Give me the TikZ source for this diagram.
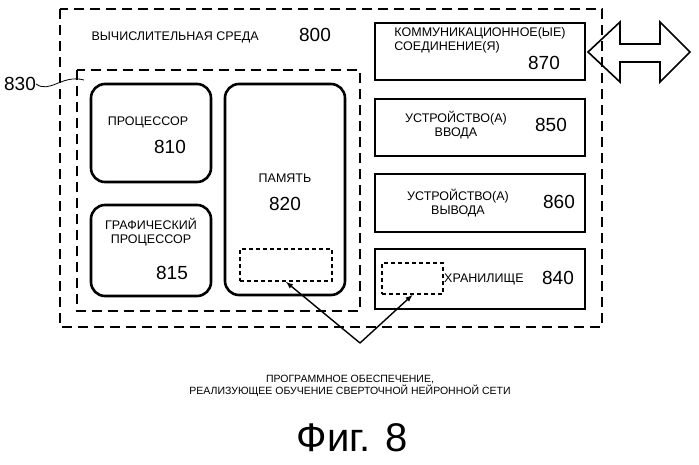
\documentclass[tikz,border=0pt]{standalone}
\usepackage{fontspec}
\setmainfont{Liberation Sans}
\begin{document}
\begin{tikzpicture}[x=1pt,y=-1pt,
 dsh/.style={draw,line width=1.5pt,dash pattern=on 10pt off 6pt},
 dot/.style={draw,line width=1.8pt,dash pattern=on 4pt off 3pt},
 rbox/.style={draw,line width=2.6pt,rounded corners=14pt},
 sbox/.style={draw,line width=2.6pt},
 lab/.style={font=\fontsize{12.5}{14}\selectfont,align=center},
 num/.style={font=\fontsize{19}{21}\selectfont}]
\useasboundingbox (0,0) rectangle (699,464);
\draw[dsh] (60,9) rectangle (602,327);
\draw[dsh] (77,70) rectangle (360,311);
\node[anchor=west,lab] at (88,37) {ВЫЧИСЛИТЕЛЬНАЯ СРЕДА};
\node[num] at (315,35) {800};
\node[rbox,minimum width=120pt,minimum height=98pt] (p) at (151,133) {};
\node[lab] at (148,122) {ПРОЦЕССОР};
\node[num] at (170,147) {810};
\node[rbox,minimum width=120pt,minimum height=91pt] (g) at (151,250.5) {};
\node[lab] at (151,232) {ГРАФИЧЕСКИЙ\\ПРОЦЕССОР};
\node[num] at (172,273) {815};
\node[rbox,minimum width=120pt,minimum height=211pt] (m) at (285,189.5) {};
\node[lab] at (285,178) {ПАМЯТЬ};
\node[num] at (285,204) {820};
\node[dot,minimum width=92pt,minimum height=32pt] (ms) at (286,265) {};
\node[sbox,minimum width=210pt,minimum height=57pt] (c) at (480,51.5) {};
\node[lab,align=left] at (480,40) {КОММУНИКАЦИОННОЕ(ЫЕ)\\СОЕДИНЕНИЕ(Я)};
\node[num] at (544,63) {870};
\node[sbox,minimum width=210pt,minimum height=57pt] (i) at (480,127.5) {};
\node[lab] at (456,125) {УСТРОЙСТВО(А)\\ВВОДА};
\node[num] at (551,125) {850};
\node[sbox,minimum width=210pt,minimum height=58pt] (o) at (480,203) {};
\node[lab] at (458,203) {УСТРОЙСТВО(А)\\ВЫВОДА};
\node[num] at (559,202) {860};
\node[sbox,minimum width=210pt,minimum height=60pt] (s) at (480,279) {};
\node[dot,minimum width=61pt,minimum height=31pt] (ss) at (412.5,278.5) {};
\node[lab,anchor=west,inner sep=1pt] at (443,279) {ХРАНИЛИЩЕ};
\node[num] at (558,278) {840};
\draw[line width=1.6pt,line join=miter] (588,52) -- (620,22) -- (620,44) -- (660,44) -- (660,22) -- (690,52) -- (660,82) -- (660,62) -- (620,62) -- (620,82) -- cycle;
\node[num,inner sep=0pt] (l830) at (20,84) {830};
\coordinate (t830) at (84,80);
\draw[thick] (l830.east) .. controls (50,94) and (62,74) .. (t830);
\coordinate (src) at (360,343);
\draw[-latex,line width=1.4pt] (src) -- (ms.south);
\draw[-latex,line width=1.4pt] (src) -- (ss.south);
\node[font=\fontsize{10.5}{12}\selectfont,align=center] at (350,386) {ПРОГРАММНОЕ ОБЕСПЕЧЕНИЕ,\\РЕАЛИЗУЮЩЕЕ ОБУЧЕНИЕ СВЕРТОЧНОЙ НЕЙРОННОЙ СЕТИ};
\node[font=\fontsize{40}{44}\selectfont] at (352,438) {Фиг. 8};
\end{tikzpicture}
\end{document}
